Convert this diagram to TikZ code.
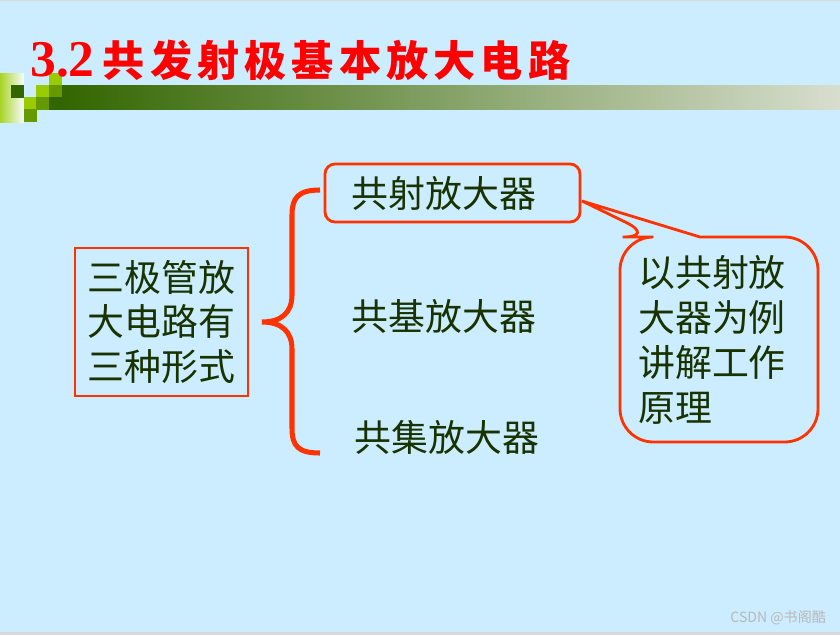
\documentclass[tikz,border=0pt]{standalone}
\usepackage{fontspec}
\newfontfamily\cjk{Noto Sans CJK SC}
\newfontfamily\cjktitle{Noto Sans CJK SC}[LetterSpace=12]
\newfontfamily\numfont{Liberation Serif}
\usetikzlibrary{positioning}
\definecolor{slidebg}{RGB}{204,236,255}
\definecolor{linered}{RGB}{255,51,0}
\definecolor{titlered}{RGB}{255,0,0}
\definecolor{textgreen}{RGB}{25,51,0}
\definecolor{darkgreen}{RGB}{51,102,0}
\definecolor{leafgreen}{RGB}{102,153,0}
\definecolor{limegreen}{RGB}{153,204,0}
\definecolor{barmid}{RGB}{150,170,120}
\definecolor{barend}{RGB}{216,222,207}
\tikzset{redbox/.style={draw=linered,line width=2.4pt,inner sep=0pt}}
\tikzset{cn/.style={font=\cjk\fontsize{31.5pt}{38.4pt}\selectfont,text=textgreen,align=left}}
\tikzset{brace/.style={draw=linered,line width=4.3pt}}

\begin{document}
\begin{tikzpicture}[x=0.03cm,y=-0.03cm]
    \useasboundingbox (0,0) rectangle (840,635);
    \fill[slidebg] (0,0) rectangle (840,635);
    \fill[gray!30] (0,0) rectangle (840,1);
    \fill[gray!30] (0,632) rectangle (840,635);
    % title bar
    \shade[left color=darkgreen,middle color=barmid,right color=barend] (62,85) rectangle (840,109);
    \shade[left color=limegreen!85,right color=white!85!slidebg] (0,73) rectangle (24,122);
    \foreach \x/\y/\c in {11/85/darkgreen,24/97/limegreen,24/109/leafgreen,36/85/limegreen,
                          36/97/leafgreen,49/73/limegreen,49/85/leafgreen,49/97/darkgreen}
        \fill[\c] (\x,\y) rectangle ++(12.8,12.5);
    \node[anchor=base west,inner sep=0pt,text=titlered] (title) at (30,76)
        {{\numfont\bfseries\fontsize{44pt}{44pt}\selectfont 3.2}\hspace{7pt}{\cjktitle\bfseries\fontsize{36pt}{36pt}\selectfont 共发射极基本放大电路}};

    \node[redbox,cn,minimum width=5.19cm,minimum height=4.44cm] (forms) at (161.5,322) {三极管放\\大电路有\\三种形式};
    \node[redbox,cn,rounded corners=0.3cm,minimum width=7.65cm,minimum height=1.74cm] (ce) at (452.5,193) {共射放大器\hspace*{0.51cm}};
    \node[cn] (cb) at (444,316) {共基放大器};
    \node[cn] (cc) at (447,437) {共集放大器};

    % brace
    \coordinate (btop) at (320,190);
    \coordinate (btip) at (262,322);
    \coordinate (bbot) at (320,453);
    \draw[brace] (btop) .. controls (298,190) and (292,198) .. (292,215) -- (292,295)
        .. controls (292,312) and (282,322) .. (btip)
        .. controls (282,322) and (292,332) .. (292,349) -- (292,428)
        .. controls (292,446) and (298,453) .. (bbot);

    % callout
    \coordinate (tip) at (582,201);
    \draw[redbox,rounded corners=1.0cm] (700,237) -- (818,237) -- (818,442) -- (620,442) -- (620,237) -- (656,237)
        [sharp corners] -- (tip) -- cycle;
    \node[cn] (example) at (712,340) {以共射放\\大器为例\\讲解工作\\原理};

    \node[anchor=east,font=\cjk\fontsize{12pt}{12pt}\selectfont,text=gray!55] (mark) at (830,618) {CSDN @书阁酷};
\end{tikzpicture}
\end{document}
